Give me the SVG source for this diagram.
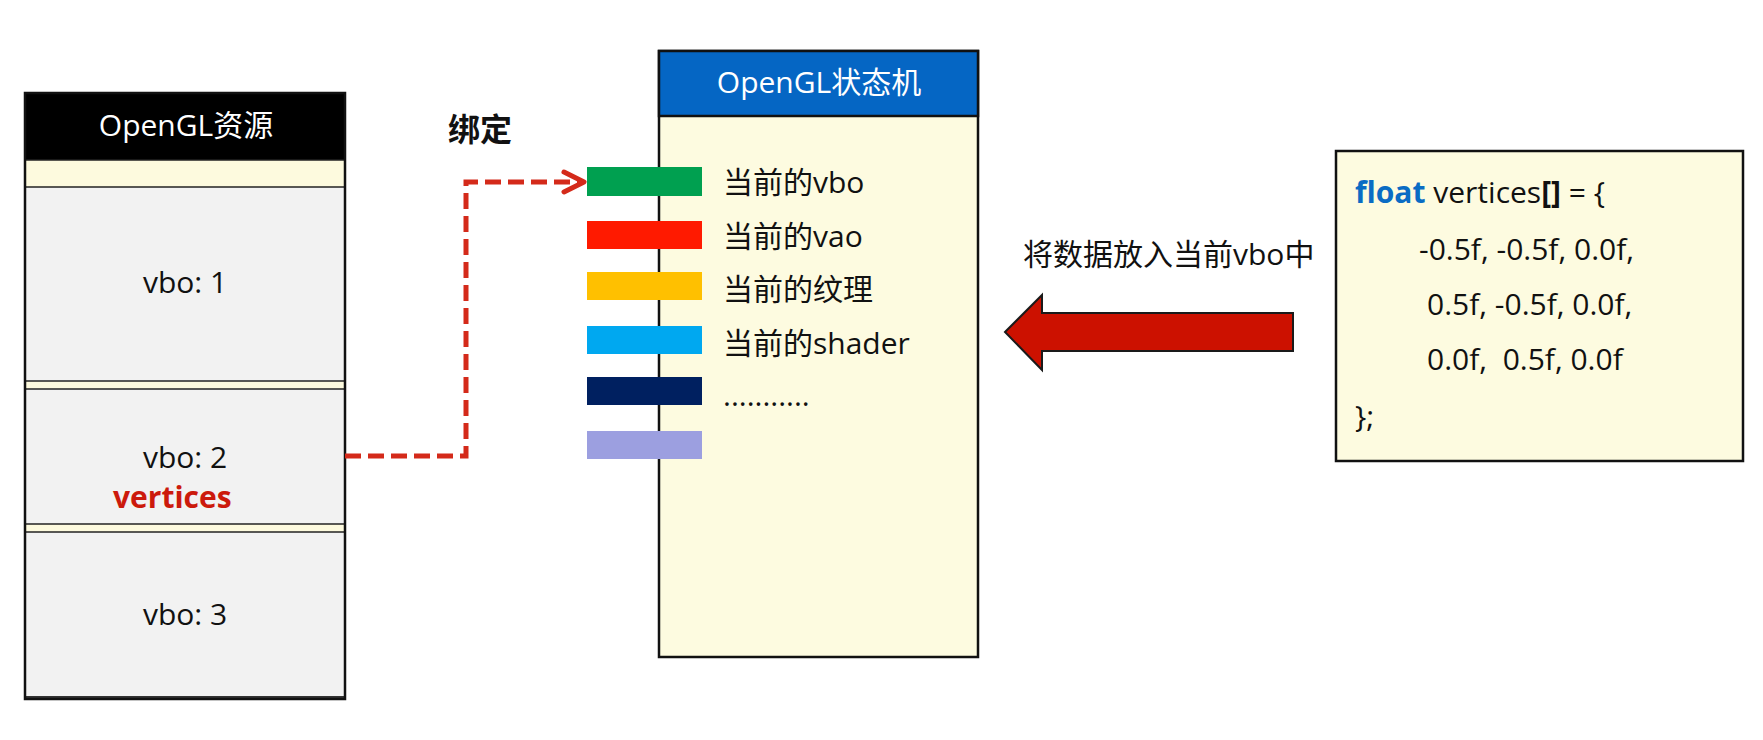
<svg xmlns="http://www.w3.org/2000/svg" width="1763" height="740" viewBox="0 0 1763 740">
<defs>
<style>
text{font-family:"Open Sans","Noto Sans CJK SC",sans-serif;font-size:30px;fill:#111}
.w{fill:#fff}
.c{text-anchor:middle}
.b{font-weight:bold}
.sep{stroke:#222;stroke-width:1.6}
.bar{stroke:none}
</style>
</defs>
<rect width="1763" height="740" fill="#fff"/>

<g id="resources">
<rect x="25" y="93" width="320" height="606" fill="#f2f2f2"/>
<rect x="25" y="93" width="320" height="67" fill="#000"/>
<rect x="25" y="160" width="320" height="27" fill="#fdfade"/>
<rect x="25" y="381" width="320" height="8" fill="#fdfade"/>
<rect x="25" y="524" width="320" height="8" fill="#fdfade"/>
<line class="sep" x1="25" y1="160" x2="345" y2="160"/>
<line class="sep" x1="25" y1="187" x2="345" y2="187"/>
<line class="sep" x1="25" y1="381" x2="345" y2="381"/>
<line class="sep" x1="25" y1="389" x2="345" y2="389"/>
<line class="sep" x1="25" y1="524" x2="345" y2="524"/>
<line class="sep" x1="25" y1="532" x2="345" y2="532"/>
<line x1="25" y1="697.5" x2="345" y2="697.5" stroke="#333" stroke-width="3"/>
<rect x="25" y="93" width="320" height="606" fill="none" stroke="#111" stroke-width="2.5"/>
<text class="w c" x="186" y="136">OpenGL资源</text>
<text class="c" x="185" y="293">vbo: 1</text>
<text class="c" x="185" y="468">vbo: 2</text>
<text class="b" x="113" y="508" style="fill:#cc1a0c">vertices</text>
<text class="c" x="185" y="625">vbo: 3</text>
</g>

<g id="statemachine">
<rect x="659" y="51" width="319" height="606" fill="#fdfbe0" stroke="#111" stroke-width="2.5"/>
<rect x="659" y="51" width="319" height="65" fill="#0566c4" stroke="#111" stroke-width="2.5"/>
<text class="w c" x="819" y="93">OpenGL状态机</text>
<rect class="bar" x="587" y="167" width="115" height="29" fill="#00a050"/>
<rect class="bar" x="587" y="221" width="115" height="28" fill="#ff1a00"/>
<rect class="bar" x="587" y="272" width="115" height="28" fill="#ffc000"/>
<rect class="bar" x="587" y="326" width="115" height="28" fill="#00a8f0"/>
<rect class="bar" x="587" y="377" width="115" height="28" fill="#002060"/>
<rect class="bar" x="587" y="431" width="115" height="28" fill="#9c9fe0"/>
<text x="723" y="193">当前的vbo</text>
<text x="723" y="247">当前的vao</text>
<text x="723" y="300">当前的纹理</text>
<text x="723" y="354">当前的shader</text>
<text x="723" y="406">...........</text>
</g>

<g id="code">
<rect x="1336" y="151" width="407" height="310" fill="#fdfbe0" stroke="#111" stroke-width="2.5"/>
<text x="1355" y="203"><tspan class="b" style="fill:#0a6cc4">float</tspan> vertices<tspan class="b">[]</tspan> = {</text>
<text x="1419" y="260">-0.5f, -0.5f, 0.0f,</text>
<text x="1427" y="315">0.5f, -0.5f, 0.0f,</text>
<text x="1427" y="370" xml:space="preserve">0.0f,  0.5f, 0.0f</text>
<text x="1355" y="427">};</text>
</g>

<g id="labels">
<text class="b" x="448" y="141" style="font-size:32px">绑定</text>
<text x="1023" y="265">将数据放入当前vbo中</text>
</g>

<g id="connectors">
<path d="M345,456 H466 V182 H580" fill="none" stroke="#d42a1a" stroke-width="5" stroke-dasharray="16,7"/>
<path d="M564,172 L584,182 L564,192" fill="none" stroke="#d42a1a" stroke-width="5" stroke-linecap="round" stroke-linejoin="round"/>
<polygon points="1005,332 1042,295 1042,313 1293,313 1293,351 1042,351 1042,370" fill="#cc1100" stroke="#1a1a1a" stroke-width="2"/>
</g>
</svg>
